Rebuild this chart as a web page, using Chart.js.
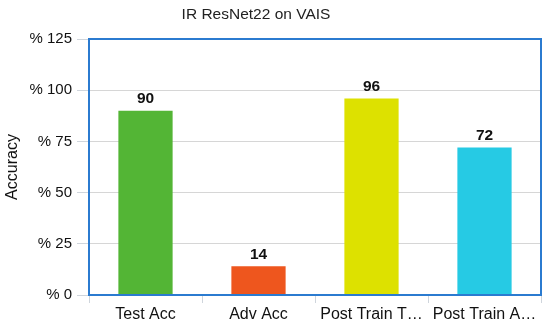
<!DOCTYPE html>
<html>
<head>
<meta charset="utf-8">
<script src="https://cdn.jsdelivr.net/npm/chart.js@4/dist/chart.umd.min.js"></script>
<style>
  html, body { margin: 0; padding: 0; background: #fff; }
  #wrap { width: 550px; height: 324px; }
</style>
</head>
<body>
<div id="wrap"><canvas id="accChart" width="550" height="324"></canvas></div>
<script>
// IR ResNet22 on VAIS - accuracy bars
const categories = ['Test Acc', 'Adv Acc', 'Post Train Test Acc', 'Post Train Adv Acc'];
const accuracy = [90, 14, 96, 72];
const barColors = ['#53b535', '#ee561e', '#dde100', '#26cae4'];
const yTicks = [0, 25, 50, 75, 100, 125];

const FONT = 'Liberation Sans, Arial, Helvetica, sans-serif';

// top title, centred a bit left of the plot like the original
const titlePlugin = {
  id: 'topTitle',
  afterDraw(chart) {
    const c = chart.ctx;
    c.save();
    c.font = '15.5px ' + FONT;
    c.fillStyle = '#222';
    c.textAlign = 'center';
    c.textBaseline = 'middle';
    c.fillText('IR ResNet22 on VAIS', 256, 15);
    c.restore();
  }
};

// blue frame round the plot area
const framePlugin = {
  id: 'frame',
  afterDatasetsDraw(chart) {
    const a = chart.chartArea;
    const c = chart.ctx;
    c.save();
    c.strokeStyle = '#2b7bd0';
    c.lineWidth = 2;
    c.strokeRect(a.left, a.top, a.right - a.left, a.bottom - a.top);
    c.restore();
  }
};

// value labels above the bars
const valuePlugin = {
  id: 'values',
  afterDatasetsDraw(chart) {
    const c = chart.ctx;
    const meta = chart.getDatasetMeta(0);
    c.save();
    c.font = 'bold 15.5px ' + FONT;
    c.fillStyle = '#111';
    c.textAlign = 'center';
    c.textBaseline = 'alphabetic';
    meta.data.forEach(function(bar, i) {
      c.fillText(accuracy[i], bar.x, bar.y - 7.5);
    });
    c.restore();
  }
};

new Chart(document.getElementById('accChart'), {
  type: 'bar',
  data: {
    labels: categories,
    datasets: [{
      data: accuracy,
      backgroundColor: barColors,
      borderWidth: 0,
      categoryPercentage: 1,
      barPercentage: 0.48
    }]
  },
  options: {
    responsive: false,
    animation: false,
    layout: { padding: { top: 39, right: 9, left: 0, bottom: 0 } },
    plugins: {
      legend: { display: false },
      tooltip: { enabled: false },
      title: { display: false }
    },
    scales: {
      x: {
        grid: {
          offset: true,
          drawOnChartArea: false,
          color: '#cfd5dc',
          tickLength: 8
        },
        border: { display: false },
        ticks: {
          color: '#111',
          font: { family: FONT, size: 16 },
          maxRotation: 0,
          autoSkip: false,
          padding: 2,
          callback: function(v, i) {
            const s = categories[i];
            return s.length > 13 ? s.slice(0, 12) + '\u2026' : s;
          }
        },
        afterFit: function(scale) { scale.height = 29; }
      },
      y: {
        min: 0,
        max: 125,
        afterBuildTicks: function(scale) {
          scale.ticks = yTicks.map(function(v) { return { value: v }; });
        },
        grid: {
          color: '#d6d6d6',
          tickColor: '#cfd5dc',
          tickLength: 12
        },
        border: { display: false },
        ticks: {
          color: '#111',
          font: { family: FONT, size: 15 },
          padding: 5,
          callback: function(v) { return '% ' + v; }
        },
        title: {
          display: true,
          text: 'Accuracy',
          color: '#111',
          font: { family: FONT, size: 16 },
          padding: { top: 3, bottom: 0 }
        },
        afterFit: function(scale) { scale.width = 89; }
      }
    }
  },
  plugins: [titlePlugin, framePlugin, valuePlugin]
});
</script>
</body>
</html>
